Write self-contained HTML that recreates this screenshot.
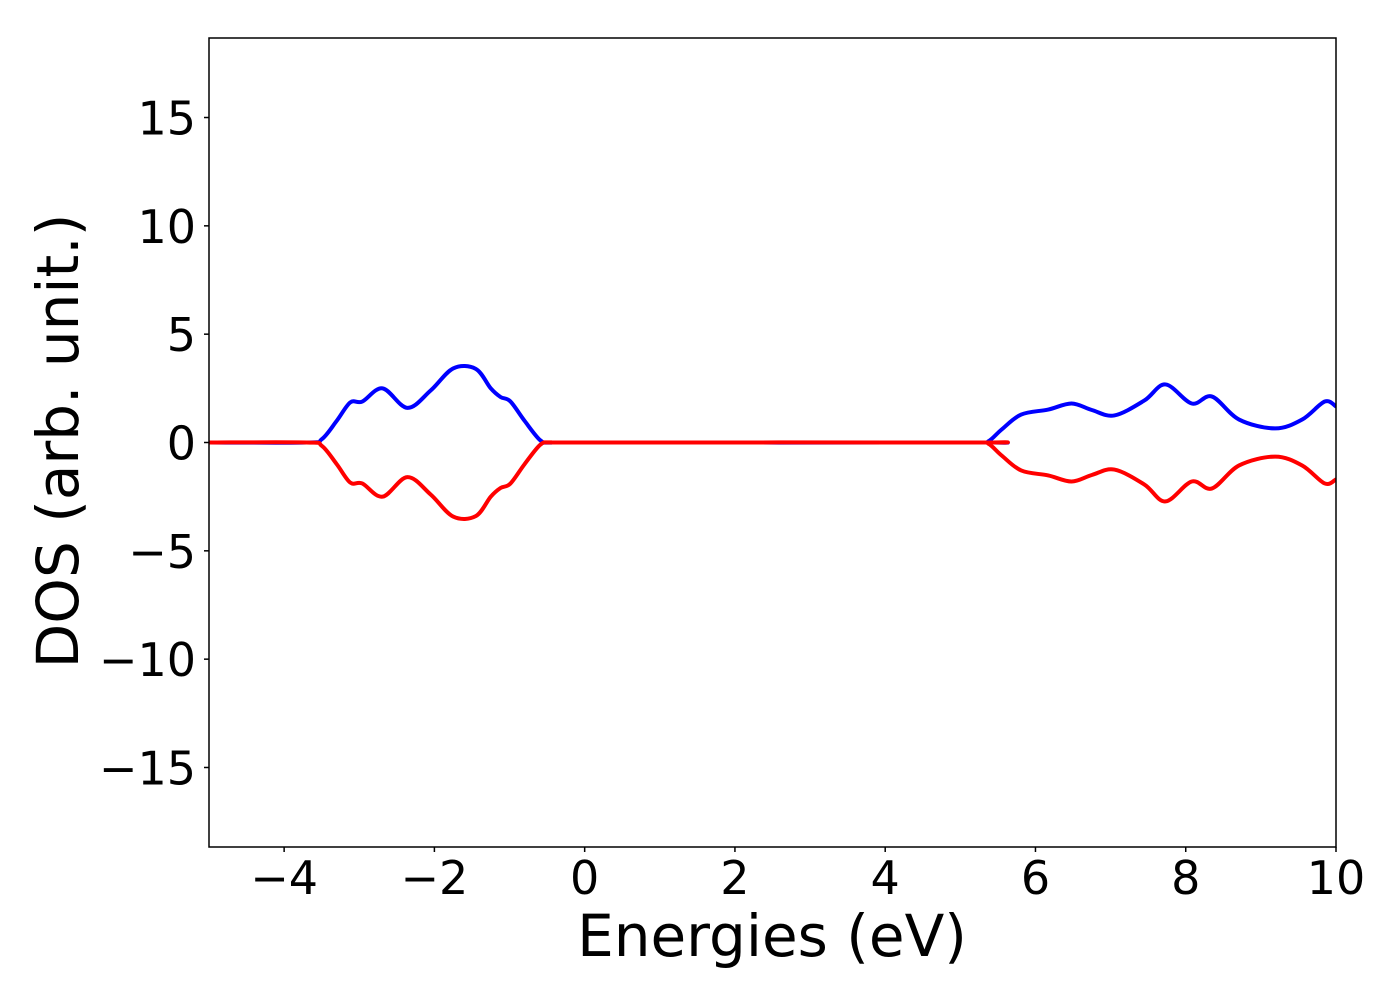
<!DOCTYPE html>
<html><head><meta charset="utf-8"><style>
html,body{margin:0;padding:0;background:#fff;}
svg{display:block;font-family:"DejaVu Sans","Liberation Sans",sans-serif;}
</style></head><body>
<svg id="chart" width="1400" height="1000" viewBox="0 0 1400 1000" xmlns="http://www.w3.org/2000/svg">
<rect x="0" y="0" width="1400" height="1000" fill="#fff"/>
<g id="plot"></g>
<g id="axes"></g>
<text x="772" y="956" font-size="58" text-anchor="middle">Energies (eV)</text>
<text transform="translate(78,441) rotate(-90)" font-size="58" text-anchor="middle">DOS (arb. unit.)</text>
</svg>
<script>
const energies = [-5,-3.7,-3.5,-3.3,-3.12,-2.96,-2.69,-2.36,-2.05,-1.75,-1.45,-1.25,-1.12,-0.99,-0.8,-0.59,-0.45,0,5.2,5.37,5.55,5.81,6.17,6.48,6.75,7.05,7.45,7.73,8.08,8.35,8.71,9.19,9.55,9.85,10.0];
const dosUp = [0,0,0.15,1.0,1.85,1.89,2.5,1.6,2.4,3.42,3.4,2.5,2.1,1.9,1.0,0.1,0,0,0,0.05,0.6,1.29,1.52,1.8,1.5,1.25,1.94,2.68,1.8,2.12,1.06,0.65,1.06,1.89,1.66];
const dosDown = [0,0,-0.15,-1.0,-1.85,-1.89,-2.5,-1.6,-2.4,-3.42,-3.4,-2.5,-2.1,-1.9,-1.0,-0.1,0,0,0,-0.05,-0.6,-1.29,-1.52,-1.8,-1.5,-1.25,-1.94,-2.72,-1.8,-2.12,-1.06,-0.65,-1.06,-1.89,-1.7];
const xTicks = [-4,-2,0,2,4,6,8,10];
const yTicks = [-15,-10,-5,0,5,10,15];
const xDomain = [-5,10], yDomain = [-18.67,18.67];
const L=209,R=1336,T=38,B=847;
const NS="http://www.w3.org/2000/svg";
function xs(v){return L+(v-xDomain[0])/(xDomain[1]-xDomain[0])*(R-L);}
function ys(v){return B-(v-yDomain[0])/(yDomain[1]-yDomain[0])*(B-T);}
function mk(tag,attrs,parent){const e=document.createElementNS(NS,tag);for(const k in attrs)e.setAttribute(k,attrs[k]);parent.appendChild(e);return e;}
function pathFor(xsArr,ysArr){
  const p=xsArr.map((x,i)=>[xs(x),ys(ysArr[i])]);
  let d="M"+p[0][0]+","+p[0][1];
  for(let i=0;i<p.length-1;i++){
    const p0=p[Math.max(0,i-1)],p1=p[i],p2=p[i+1],p3=p[Math.min(p.length-1,i+2)];
    const t=1/6;
    const c1=[p1[0]+(p2[0]-p0[0])*t,p1[1]+(p2[1]-p0[1])*t];
    const c2=[p2[0]-(p3[0]-p1[0])*t,p2[1]-(p3[1]-p1[1])*t];
    d+=" C"+c1[0]+","+c1[1]+" "+c2[0]+","+c2[1]+" "+p2[0]+","+p2[1];
  }
  return d;
}
const plot=document.getElementById('plot');
mk('clipPath',{id:'clip'},plot).appendChild(Object.assign(document.createElementNS(NS,'rect'),{}));
const cr=plot.querySelector('#clip').firstChild;
cr.setAttribute('x',L);cr.setAttribute('y',T);cr.setAttribute('width',R-L);cr.setAttribute('height',B-T);
const up=mk('path',{d:pathFor(energies,dosUp),fill:'none',stroke:'#0000ff','stroke-width':4,'clip-path':'url(#clip)'},plot);


const dn=mk('path',{d:pathFor(energies,dosDown),fill:'none',stroke:'#ff0000','stroke-width':4,'clip-path':'url(#clip)'},plot);


const axes=document.getElementById('axes');
const frame=mk('rect',{x:L,y:T,width:R-L,height:B-T,fill:'none',stroke:'#000','stroke-width':1.5},axes);


xTicks.forEach(v=>{
  const x=xs(v);
  mk('line',{x1:x,y1:B,x2:x,y2:B+5,stroke:'#000','stroke-width':1.5},axes);
  const t=mk('text',{x:x,y:894,'font-size':46,'text-anchor':'middle'},axes);
  t.textContent=(v<0?'\u2212'+(-v):String(v));
  
  
});
yTicks.forEach(v=>{
  const y=ys(v);
  mk('line',{x1:L-5,y1:y,x2:L,y2:y,stroke:'#000','stroke-width':1.5},axes);
  const t=mk('text',{x:196,y:y+17,'font-size':46,'text-anchor':'end'},axes);
  t.textContent=(v<0?'\u2212'+(-v):String(v));
  
  
});
</script>
</body></html>
